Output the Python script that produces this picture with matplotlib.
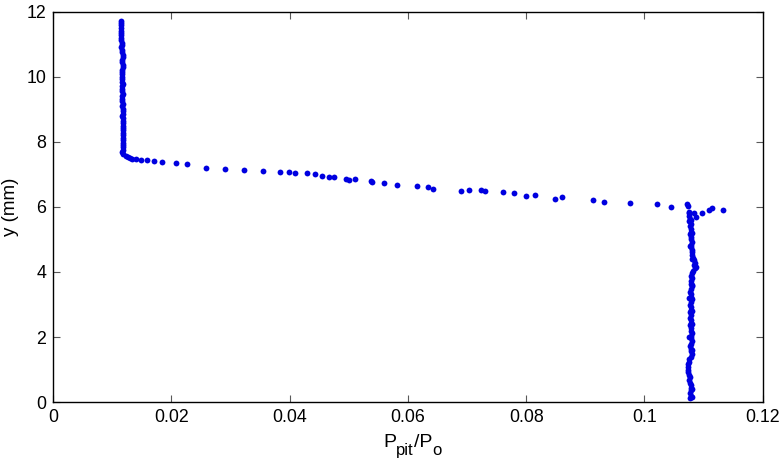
import matplotlib
matplotlib.use("Agg")
import matplotlib.pyplot as plt

plt.rcParams['font.family'] = ['Liberation Sans', 'DejaVu Sans']
plt.rcParams['mathtext.default'] = 'regular'

# upper (freestream) column
upper_y = [11.72, 11.65, 11.58, 11.50, 11.42, 11.35, 11.27, 11.20, 11.12, 11.05,
           10.97, 10.90, 10.82, 10.75, 10.67, 10.60, 10.52, 10.45, 10.37, 10.30,
           10.22, 10.15, 10.07, 10.00, 9.92, 9.85, 9.77, 9.70, 9.62, 9.55,
           9.47, 9.40, 9.32, 9.25, 9.17, 9.10, 9.02, 8.95, 8.87, 8.80,
           8.72, 8.65, 8.57, 8.50, 8.42, 8.35, 8.27, 8.20, 8.12, 8.05,
           7.97, 7.90, 7.83, 7.76, 7.70, 7.64]
upper_x = [0.01140, 0.01142, 0.01145, 0.01143, 0.01147, 0.01150, 0.01148, 0.01152, 0.01150, 0.01155,
           0.01160, 0.01152, 0.01158, 0.01165, 0.01175, 0.01180, 0.01170, 0.01162, 0.01175, 0.01182,
           0.01168, 0.01160, 0.01165, 0.01170, 0.01162, 0.01168, 0.01172, 0.01165, 0.01160, 0.01168,
           0.01172, 0.01170, 0.01165, 0.01170, 0.01175, 0.01168, 0.01172, 0.01178, 0.01175, 0.01170,
           0.01178, 0.01180, 0.01175, 0.01182, 0.01178, 0.01180, 0.01185, 0.01182, 0.01180, 0.01185,
           0.01188, 0.01185, 0.01180, 0.01175, 0.01168, 0.01185]

# shear layer / transition
mid_x = [0.01228, 0.0134, 0.0140, 0.01482, 0.01583, 0.01712, 0.01848, 0.02073, 0.0226, 0.0258,
         0.0290, 0.0323, 0.0354, 0.0384, 0.0399, 0.0409, 0.0430, 0.0442, 0.0454, 0.0466,
         0.0475, 0.0495, 0.0501, 0.0510, 0.0537, 0.0540, 0.0559, 0.0582, 0.0616, 0.0634,
         0.0642, 0.0690, 0.0703, 0.0723, 0.0730, 0.0761, 0.0780, 0.0799, 0.0815, 0.0848,
         0.0861, 0.0913, 0.0932, 0.0976, 0.1021, 0.1045, 0.1072, 0.1073, 0.1076, 0.1084,
         0.1088, 0.1097, 0.1110, 0.1115, 0.1133, 0.0130, 0.0126]
mid_y = [7.57, 7.47, 7.46, 7.45, 7.45, 7.40, 7.38, 7.34, 7.31, 7.21,
         7.15, 7.14, 7.09, 7.08, 7.07, 7.05, 7.05, 7.01, 6.96, 6.93,
         6.93, 6.86, 6.82, 6.85, 6.79, 6.76, 6.73, 6.66, 6.65, 6.62,
         6.55, 6.50, 6.52, 6.51, 6.50, 6.47, 6.44, 6.33, 6.37, 6.24,
         6.29, 6.22, 6.15, 6.13, 6.10, 5.99, 6.08, 6.04, 5.84, 5.81,
         5.70, 5.81, 5.91, 5.96, 5.89, 7.51, 7.54]

# lower (jet core) column
lower_y = [5.80, 5.72, 5.64, 5.56, 5.48, 5.40, 5.32, 5.24, 5.16, 5.08,
           5.00, 4.92, 4.84, 4.76, 4.68, 4.60, 4.52, 4.44, 4.36, 4.28,
           4.20, 4.12, 4.04, 3.96, 3.88, 3.80, 3.72, 3.64, 3.56, 3.48,
           3.40, 3.32, 3.24, 3.16, 3.08, 3.00, 2.92, 2.84, 2.76, 2.68,
           2.60, 2.52, 2.44, 2.36, 2.28, 2.20, 2.12, 2.04, 1.96, 1.88,
           1.80, 1.72, 1.64, 1.56, 1.48, 1.40, 1.32, 1.24, 1.16, 1.08,
           1.00, 0.92, 0.84, 0.76, 0.68, 0.60, 0.52, 0.44, 0.36, 0.28,
           0.20, 0.12, 5.60, 5.20, 4.80, 4.40, 4.16, 3.60, 3.20, 2.80,
           2.40, 2.00, 1.60, 0.40, 0.16]
lower_x = [0.1076, 0.1075, 0.1077, 0.1076, 0.1078, 0.1077, 0.1079, 0.1078, 0.1077, 0.1079,
           0.1078, 0.1080, 0.1079, 0.1078, 0.1080, 0.1081, 0.1080, 0.1082, 0.1084, 0.1085,
           0.1084, 0.1085, 0.1082, 0.1080, 0.1079, 0.1080, 0.1078, 0.1079, 0.1080, 0.1078,
           0.1077, 0.1079, 0.1078, 0.1080, 0.1079, 0.1077, 0.1078, 0.1079, 0.1077, 0.1078,
           0.1077, 0.1079, 0.1078, 0.1077, 0.1079, 0.1078, 0.1080, 0.1079, 0.1078, 0.1080,
           0.1079, 0.1077, 0.1078, 0.1079, 0.1080, 0.1078, 0.1076, 0.1075, 0.1074, 0.1073,
           0.1073, 0.1074, 0.1075, 0.1077, 0.1076, 0.1077, 0.1078, 0.1079, 0.1078, 0.1077,
           0.1078, 0.1077, 0.1079, 0.1080, 0.1077, 0.1081, 0.1087, 0.1081, 0.1076, 0.1080,
           0.1081, 0.1076, 0.1081, 0.1081, 0.1080]

x_all = upper_x + mid_x + lower_x
y_all = upper_y + mid_y + lower_y

fig = plt.figure(figsize=(7.83, 4.66), dpi=100)
ax = fig.add_axes([0.068, 0.137, 0.906, 0.838])
ax.plot(x_all, y_all, 'o', color='#0000e0', markersize=4.2, markeredgewidth=0)

ax.set_xlim(0, 0.12)
ax.set_ylim(0, 12)
ax.set_xticks([0, 0.02, 0.04, 0.06, 0.08, 0.1, 0.12])
ax.set_xticklabels(['0', '0.02', '0.04', '0.06', '0.08', '0.1', '0.12'])
ax.set_yticks([0, 2, 4, 6, 8, 10, 12])
ax.tick_params(direction='in', length=5, width=0.8, color='0.35', labelsize=12.8,
               top=True, right=True, pad=5)
for s in ax.spines.values():
    s.set_linewidth(1.0)
ax.set_ylabel('y (mm)', fontsize=13.5, labelpad=5)

# x label with large subscripts, built piece by piece
W, H = 783, 466
pieces = [('P', 14, 0), ('pit', 12, 8), ('/P', 14, 0), ('o', 12, 8)]
renderer = fig.canvas.get_renderer()
xpos = 383
for txt, size, drop in pieces:
    t = fig.text(xpos / W, 1 - (447 + drop) / H, txt, fontsize=size, va='baseline', ha='left')
    xpos += t.get_window_extent(renderer).width

fig.savefig('out.png', dpi=100)
